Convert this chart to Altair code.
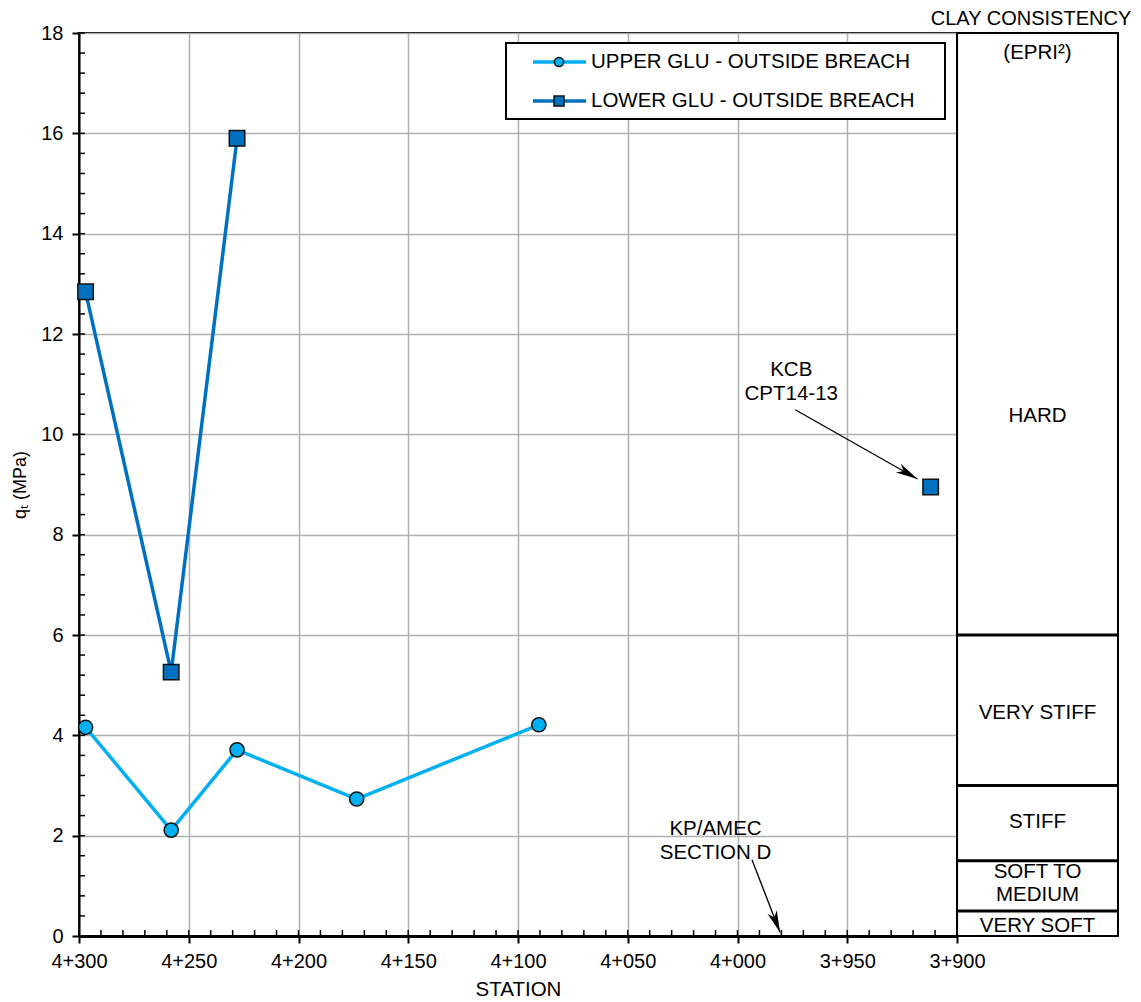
import math
import altair as alt
import pandas as pd

# ---------------- data ----------------
upper_station = [4297, 4258, 4228, 4173.5, 4090.5]
upper_qt = [4.16, 2.11, 3.71, 2.73, 4.21]

lower_station = [4297, 4258, 4228]
lower_qt = [12.84, 5.26, 15.9]

kcb_station = [3912]
kcb_qt = [8.95]

annot_labels = ["KCB\nCPT14-13", "KP/AMEC\nSECTION D"]
annot_station = [3975.5, 4010]
annot_qt = [11.29, 2.14]
arrow_from_station = [3973.7, 3993.4]
arrow_from_qt = [10.49, 1.52]
arrow_to_station = [3918, 3980.6]
arrow_to_qt = [9.11, 0.07]

clay_bounds = [0.5, 1.5, 3, 6]
clay_labels = ["HARD", "VERY STIFF", "STIFF", "SOFT TO\nMEDIUM", "VERY SOFT", "(EPRI²)"]
clay_label_qt = [10.36, 4.44, 2.27, 1.27, 0.2, 17.6]

x_ticks = list(range(3900, 4301, 50))
y_ticks = list(range(0, 19, 2))
x_minor = list(range(3900, 4301, 10))
y_minor = [round(i * 0.4, 1) for i in range(46)]

legend_names = ["UPPER GLU - OUTSIDE BREACH", "LOWER GLU - OUTSIDE BREACH"]

# ---------------- styling ----------------
FONT = "Liberation Sans"
C_UP = "#00b0f0"
C_LO = "#0070c0"
W, H = 878, 903
PW = 161
FS = 20.5

xscale = alt.Scale(domain=[3900, 4300], reverse=True, nice=False, zero=False)
yscale = alt.Scale(domain=[0, 18], nice=False, zero=False)

xaxis = alt.Axis(
    values=x_ticks, title="STATION", grid=True,
    labelExpr="floor(datum.value/1000) + '+' + slice('00' + (datum.value % 1000), -3)",
    labelFlush=False, labelOverlap=False, tickSize=7, tickWidth=2, tickColor="black",
    domainColor="black", domainWidth=3, labelPadding=8, titlePadding=8,
    labelFontSize=20, titleFontSize=20.5, titleFontWeight="normal",
    labelColor="black", titleColor="black", labelFont=FONT, titleFont=FONT,
    gridColor="#b0b0b0", gridWidth=1.5,
)
yaxis = alt.Axis(
    values=y_ticks, title="qₜ (MPa)", grid=True, labelOverlap=False,
    tickSize=7, tickWidth=2, tickColor="black", domainColor="black", domainWidth=2,
    labelPadding=9, titlePadding=11, labelFontSize=20, titleFontSize=18,
    titleFontWeight="normal", labelColor="black", titleColor="black",
    labelFont=FONT, titleFont=FONT, gridColor="#b0b0b0", gridWidth=1.5,
    labelFlush=False,
)


def X(field="station"):
    return alt.X(f"{field}:Q", scale=xscale, axis=xaxis)


def Y(field="qt"):
    return alt.Y(f"{field}:Q", scale=yscale, axis=yaxis)


up_df = pd.DataFrame({"station": upper_station, "qt": upper_qt})
lo_df = pd.DataFrame({"station": lower_station, "qt": lower_qt})
kcb_df = pd.DataFrame({"station": kcb_station, "qt": kcb_qt})

# arrows
arr_rows = []
for fs, fq, ts, tq in zip(arrow_from_station, arrow_from_qt, arrow_to_station, arrow_to_qt):
    dx = -(ts - fs) * W / 400.0
    dy = -(tq - fq) * H / 18.0
    ang = (math.degrees(math.atan2(dy, dx)) + 90) % 360
    arr_rows.append({"station": fs, "qt": fq, "station2": ts, "qt2": tq, "ang": ang})
arr_df = pd.DataFrame(arr_rows)
ann_df = pd.DataFrame({"station": annot_station, "qt": annot_qt, "label": annot_labels})

minor_x_df = pd.DataFrame({"station": x_minor})
minor_y_df = pd.DataFrame({"qt": y_minor})

one = pd.DataFrame({"k": [0]})

grid_base = alt.Chart(up_df).mark_line(opacity=0).encode(x=X(), y=Y())

minor_x = alt.Chart(minor_x_df).mark_rule(color="black", strokeWidth=1.5).encode(
    x=X(), y=alt.value(H), y2=alt.value(H - 6))
minor_y = alt.Chart(minor_y_df).mark_rule(color="black", strokeWidth=1.5).encode(
    y=Y(), x=alt.value(0), x2=alt.value(6))

up_line = alt.Chart(up_df).mark_line(color=C_UP, strokeWidth=3.5).encode(x=X(), y=Y())
up_pts = alt.Chart(up_df).mark_point(
    shape="circle", filled=True, fill=C_UP, stroke="#111111", strokeWidth=1.5,
    size=200, opacity=1).encode(x=X(), y=Y())
lo_line = alt.Chart(lo_df).mark_line(color=C_LO, strokeWidth=3.5).encode(x=X(), y=Y())
lo_pts = alt.Chart(lo_df).mark_point(
    shape="square", filled=True, fill=C_LO, stroke="#111111", strokeWidth=1.5,
    size=240, opacity=1).encode(x=X(), y=Y())
kcb_pts = alt.Chart(kcb_df).mark_point(
    shape="square", filled=True, fill=C_LO, stroke="#111111", strokeWidth=1.5,
    size=240, opacity=1).encode(x=X(), y=Y())

arr_shaft = alt.Chart(arr_df).mark_rule(color="black", strokeWidth=1.3).encode(
    x=X(), y=Y(), x2="station2:Q", y2="qt2:Q")
arr_head = alt.Chart(arr_df).mark_point(
    shape="M0,0L-0.45,2L0,1.45L0.45,2Z", filled=True, color="black", size=484,
    opacity=1).encode(x=X("station2"), y=Y("qt2"), angle=alt.Angle("ang:Q", scale=None))
ann_text = alt.Chart(ann_df).mark_text(
    font=FONT, fontSize=FS, color="black", lineBreak="\n", lineHeight=24,
    align="center", baseline="middle").encode(x=X(), y=Y(), text="label:N")

# legend (decorative box)
leg_box = alt.Chart(one).mark_rect(fill="white", stroke="black", strokeWidth=2).encode(
    x=alt.value(427), x2=alt.value(866), y=alt.value(10), y2=alt.value(86))
leg_layers = [leg_box]
for i, (name, col, shp, sz) in enumerate(zip(legend_names, [C_UP, C_LO],
                                             ["circle", "square"], [85, 100])):
    yy = 29 + 39 * i
    leg_layers.append(alt.Chart(one).mark_rule(color=col, strokeWidth=3.5).encode(
        x=alt.value(454), x2=alt.value(507), y=alt.value(yy)))
    leg_layers.append(alt.Chart(one).mark_point(
        shape=shp, filled=True, fill=col, stroke="#111111", strokeWidth=1.5, size=sz,
        opacity=1).encode(x=alt.value(480), y=alt.value(yy)))
    leg_layers.append(alt.Chart(one).mark_text(
        font=FONT, fontSize=FS, color="black", align="left", baseline="middle",
        text=name).encode(x=alt.value(512), y=alt.value(yy)))

left = alt.layer(grid_base, minor_x, minor_y, up_line, lo_line, arr_shaft, arr_head,
                 up_pts, lo_pts, kcb_pts, ann_text, *leg_layers).properties(width=W, height=H)

# ---------------- clay consistency panel ----------------
bounds_df = pd.DataFrame({"qt": clay_bounds})
clab_df = pd.DataFrame({"qt": clay_label_qt, "label": clay_labels})
pscale = alt.Scale(domain=[0, 18], nice=False, zero=False)

p_rules = alt.Chart(bounds_df).mark_rule(color="black", strokeWidth=3).encode(
    y=alt.Y("qt:Q", scale=pscale, axis=None))
p_text = alt.Chart(clab_df).mark_text(
    font=FONT, fontSize=FS, color="black", lineBreak="\n", lineHeight=23,
    align="center", baseline="middle").encode(
    y=alt.Y("qt:Q", scale=pscale, axis=None), x=alt.value(PW / 2), text="label:N")
p_title = alt.Chart(one).mark_text(
    font=FONT, fontSize=20, color="black", align="center", baseline="middle",
    text="CLAY CONSISTENCY").encode(x=alt.value(74), y=alt.value(-14))

right = alt.layer(p_rules, p_text, p_title).properties(width=PW, height=H)

chart = alt.hconcat(left, right, spacing=0, bounds="flush").configure_view(
    stroke="black", strokeWidth=2
).properties(padding={"left": 2, "top": 0, "right": 0, "bottom": 0})

chart.save("out.html", embed_options={"renderer": "svg", "actions": False})
